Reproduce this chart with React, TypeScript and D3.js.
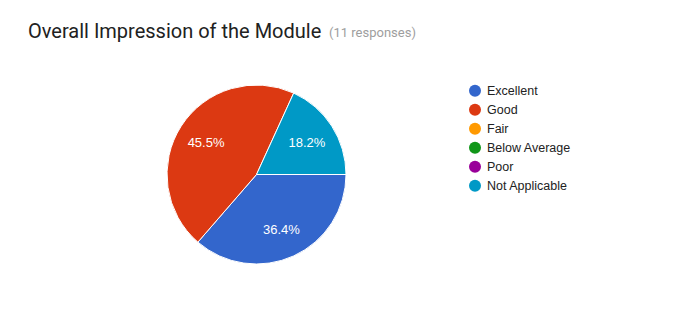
import React from "react";
import * as d3 from "d3";

const categories = ["Excellent", "Good", "Fair", "Below Average", "Poor", "Not Applicable"];
const counts = [4, 5, 0, 0, 0, 2];
const colors = ["#3366cc", "#dc3912", "#ff9900", "#109618", "#990099", "#0099c6"];
const title = "Overall Impression of the Module";
const subtitle = "(11 responses)";

export default function App() {
  const W = 684, H = 315;
  const cx = 256.5, cy = 174.5, r = 89.5;
  const total = d3.sum(counts);
  const pie = d3.pie<number>().sort(null).value((d) => d).startAngle(Math.PI / 2).endAngle(Math.PI / 2 + 2 * Math.PI);
  const arcs = pie(counts);
  const arc = d3.arc<d3.PieArcDatum<number>>().innerRadius(0).outerRadius(r);
  const labelArc = d3.arc<d3.PieArcDatum<number>>().innerRadius(r * 0.67).outerRadius(r * 0.67);
  const legendY = d3.scalePoint<string>().domain(categories).range([90.7, 185.7]);
  return (
    <svg width={W} height={H} style={{ position: "absolute", left: 0, top: 0, background: "#fff" }}>
      <text x={28} y={38} fontFamily="Roboto" fontSize={20} fill="#212121">{title}</text>
      <text x={329} y={37} fontFamily="Roboto" fontSize={13} fill="#9e9e9e">{subtitle}</text>
      <g transform={`translate(${cx},${cy})`}>
        {arcs.map((a, i) =>
          a.value > 0 ? (
            <path key={i} d={arc(a) || ""} fill={colors[i]} stroke="#fff" strokeWidth={1} />
          ) : null
        )}
        {arcs.map((a, i) => {
          if (a.value <= 0) return null;
          const [lx, ly] = labelArc.centroid(a);
          return (
            <text key={"l" + i} x={lx} y={ly} dy="0.35em" textAnchor="middle" fontFamily="Arial, 'Liberation Sans'" fontSize={13} fill="#fff">
              {((a.value / total) * 100).toFixed(1)}%
            </text>
          );
        })}
      </g>
      {categories.map((c, i) => (
        <g key={c} transform={`translate(0,${legendY(c)})`}>
          <circle cx={475} cy={0} r={6} fill={colors[i]} />
          <text x={487} y={0} dy="0.35em" fontFamily="Arial, 'Liberation Sans'" fontSize={12.5} fill="#222">{c}</text>
        </g>
      ))}
    </svg>
  );
}
